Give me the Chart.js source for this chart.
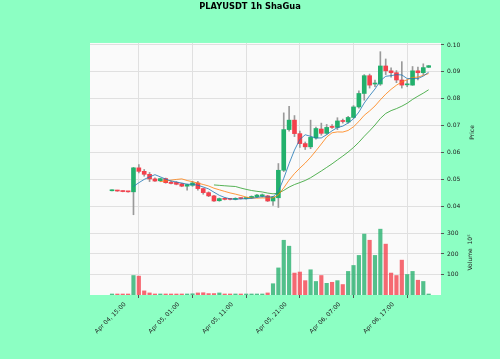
<!DOCTYPE html>
<html>
<head>
<meta charset="utf-8">
<script src="https://cdn.jsdelivr.net/npm/chart.js@4.4.1/dist/chart.umd.min.js"></script>
<style>
html, body { margin: 0; padding: 0; background: #8cffc3; }
canvas { display: block; }
</style>
</head>
<body>
<canvas id="playusdt" width="500" height="359"></canvas>
<script>
// PLAYUSDT 1h - candles, MAs (5/10/20) and volume
var xTickPos = [0, 10, 20, 30, 40, 50, 60];
var xTickLabels = ['Apr 04, 15:00', 'Apr 05, 01:00', 'Apr 05, 11:00', 'Apr 05, 21:00', 'Apr 06, 07:00', 'Apr 06, 17:00', ''];
var priceTicks = [0.04, 0.05, 0.06, 0.07, 0.08, 0.09, 0.10];
var volumeTicks = [100, 200, 300];

var opens = [0.0459,0.0461,0.0458,0.0456,0.0455,0.0544,0.0531,0.0520,0.0503,0.0496,
             0.0504,0.0491,0.0490,0.0485,0.0476,0.0479,0.0488,0.0467,0.0452,0.0440,
             0.0422,0.0431,0.0429,0.0427,0.0431,0.0430,0.0433,0.0437,0.0439,0.0440,
             0.0421,0.0433,0.0535,0.0686,0.0721,0.0671,0.0634,0.0622,0.0655,0.0688,
             0.0672,0.0697,0.0694,0.0719,0.0714,0.0731,0.0770,0.0820,0.0886,0.0855,
             0.0855,0.0922,0.0904,0.0897,0.0870,0.0852,0.0851,0.0904,0.0897,0.0917];
var highs = [0.0462,0.0461,0.0459,0.0457,0.0546,0.0556,0.0538,0.0527,0.0507,0.0506,
             0.0506,0.0495,0.0493,0.0487,0.0484,0.0494,0.0494,0.0469,0.0455,0.0442,
             0.0432,0.0433,0.0430,0.0433,0.0433,0.0433,0.0440,0.0446,0.0447,0.0442,
             0.0438,0.0560,0.0748,0.0772,0.0738,0.0680,0.0640,0.0721,0.0695,0.0710,
             0.0705,0.0705,0.0730,0.0725,0.0735,0.0775,0.0830,0.0890,0.0892,0.0870,
             0.0975,0.0948,0.0915,0.0905,0.0938,0.0870,0.0920,0.0918,0.0930,0.0924];
var lows = [0.0458,0.0457,0.0455,0.0454,0.0370,0.0525,0.0513,0.0493,0.0494,0.0493,
            0.0487,0.0484,0.0481,0.0474,0.0461,0.0475,0.0461,0.0446,0.0437,0.0419,
            0.0420,0.0425,0.0425,0.0425,0.0428,0.0428,0.0430,0.0434,0.0435,0.0419,
            0.0405,0.0397,0.0530,0.0680,0.0660,0.0620,0.0612,0.0615,0.0650,0.0665,
            0.0668,0.0690,0.0686,0.0710,0.0710,0.0728,0.0765,0.0795,0.0840,0.0845,
            0.0850,0.0890,0.0880,0.0860,0.0840,0.0845,0.0850,0.0870,0.0890,0.0916];
var closes = [0.0461,0.0458,0.0456,0.0455,0.0544,0.0531,0.0520,0.0503,0.0495,0.0504,
              0.0489,0.0486,0.0483,0.0476,0.0482,0.0488,0.0467,0.0452,0.0440,0.0421,
              0.0430,0.0427,0.0427,0.0431,0.0430,0.0431,0.0438,0.0443,0.0444,0.0421,
              0.0436,0.0535,0.0686,0.0721,0.0671,0.0634,0.0622,0.0657,0.0690,0.0672,
              0.0694,0.0694,0.0718,0.0716,0.0731,0.0770,0.0820,0.0886,0.0851,0.0856,
              0.0922,0.0904,0.0897,0.0870,0.0851,0.0854,0.0904,0.0897,0.0916,0.0923];
// volume in units of 10^5
var volume = [2,3,3,3,95,92,20,10,5,5,
              5,3,3,5,5,6,10,11,7,7,
              10,5,5,5,3,3,3,4,3,10,
              55,132,267,238,107,112,70,123,66,95,
              57,62,70,51,115,144,193,297,267,193,
              321,248,107,95,170,100,115,72,66,2];

var mav5 = [null,null,null,null,
            0.04748,0.04888,0.05012,0.05106,0.05186,0.05106,0.05022,0.04954,0.04914,0.04876,
            0.04832,0.04830,0.04792,0.04730,0.04658,0.04536,0.04420,0.04340,0.04290,0.04272,
            0.04290,0.04292,0.04308,0.04342,0.04374,0.04356,0.04366,0.04566,0.05050,0.05598,
            0.06098,0.06494,0.06668,0.06610,0.06548,0.06550,0.06670,0.06814,0.06936,0.06988,
            0.07106,0.07258,0.07510,0.07846,0.08116,0.08366,0.08670,0.08838,0.08860,0.08898,
            0.08888,0.08752,0.08752,0.08752,0.08844,0.08988];
var mav10 = [null,null,null,null,null,null,null,null,null,
             0.04927,0.04955,0.04983,0.05010,0.05031,0.04969,0.04926,0.04873,0.04822,0.04767,
             0.04684,0.04625,0.04566,0.04510,0.04465,0.04413,0.04356,0.04324,0.04316,0.04323,
             0.04323,0.04329,0.04437,0.04696,0.04986,0.05227,0.05430,0.05617,0.05830,0.06073,
             0.06324,0.06582,0.06741,0.06773,0.06768,0.06828,0.06964,0.07162,0.07391,0.07552,
             0.07736,0.07964,0.08174,0.08353,0.08507,0.08627,0.08711,0.08795,0.08806,0.08871,
             0.08938];
var mav20 = [null,null,null,null,null,null,null,null,null,null,
             null,null,null,null,null,null,null,null,null,
             0.04806,0.04790,0.04775,0.04760,0.04748,0.04691,0.04641,0.04599,0.04569,0.04545,
             0.04504,0.04477,0.04502,0.04603,0.04726,0.04820,0.04893,0.04971,0.05073,0.05198,
             0.05324,0.05456,0.05589,0.05735,0.05877,0.06028,0.06197,0.06390,0.06611,0.06813,
             0.07030,0.07273,0.07458,0.07563,0.07638,0.07728,0.07838,0.07979,0.08099,0.08212,
             0.08337];

var upColor = '#22b06c';
var downColor = '#f4404c';
var upVolColor = 'rgba(34,176,108,0.78)';
var downVolColor = 'rgba(244,64,76,0.78)';

var bodyColors = [];
var volColors = [];
for (var i = 0; i < closes.length; i++) {
    var up = closes[i] >= opens[i];
    bodyColors.push(up ? upColor : downColor);
    volColors.push(up ? upVolColor : downVolColor);
}

function pts(arr) {
    return arr.map(function (v, i) { return { x: i, y: v }; });
}

// plot background + axis titles (read bottom-to-top like the original)
var painelFundo = {
    id: 'painelFundo',
    beforeDraw: function (chart) {
        var a = chart.chartArea, c = chart.ctx;
        c.save();
        c.fillStyle = '#fafafa';
        c.fillRect(a.left, a.top, a.right - a.left, a.bottom - a.top);
        c.restore();
    },
    afterDraw: function (chart) {
        var c = chart.ctx, sy = chart.scales.y, sv = chart.scales.yv;
        c.save();
        c.fillStyle = '#222';
        c.font = '6px "DejaVu Sans"';
        c.textAlign = 'center';
        c.textBaseline = 'middle';
        c.translate(sy.right - 28, (sy.top + sy.bottom) / 2);
        c.rotate(-Math.PI / 2);
        c.fillText('Price', 0, 0);
        c.restore();
        c.save();
        c.fillStyle = '#222';
        c.font = '6px "DejaVu Sans"';
        c.textAlign = 'center';
        c.textBaseline = 'middle';
        c.translate(sv.right - 30, (sv.top + sv.bottom) / 2 - 6);
        c.rotate(-Math.PI / 2);
        c.fillText('Volume  10\u2075', 0, 0);
        c.restore();
    }
};

Chart.defaults.font.family = 'DejaVu Sans';

var ctx = document.getElementById('playusdt').getContext('2d');
var grafico = new Chart(ctx, {
    type: 'bar',
    data: {
        datasets: [{
            type: 'line',
            label: 'MA5',
            data: pts(mav5),
            borderColor: 'rgba(31,119,180,0.8)',
            borderWidth: 1,
            pointRadius: 0,
            yAxisID: 'y',
            order: 0
        }, {
            type: 'line',
            label: 'MA10',
            data: pts(mav10),
            borderColor: 'rgba(255,127,14,0.8)',
            borderWidth: 1,
            pointRadius: 0,
            yAxisID: 'y',
            order: 0
        }, {
            type: 'line',
            label: 'MA20',
            data: pts(mav20),
            borderColor: 'rgba(44,160,44,0.8)',
            borderWidth: 1,
            pointRadius: 0,
            yAxisID: 'y',
            order: 0
        }, {
            label: 'body',
            data: opens.map(function (o, i) { return { x: i, y: [o, closes[i]] }; }),
            backgroundColor: bodyColors,
            barThickness: 4,
            minBarLength: 1,
            grouped: false,
            yAxisID: 'y',
            order: 1
        }, {
            label: 'wick',
            data: lows.map(function (l, i) { return { x: i, y: [l, highs[i]] }; }),
            backgroundColor: '#9a9a9a',
            barThickness: 1,
            grouped: false,
            yAxisID: 'y',
            order: 2
        }, {
            label: 'Volume',
            data: pts(volume),
            backgroundColor: volColors,
            barThickness: 3.5,
            minBarLength: 1,
            grouped: false,
            yAxisID: 'yv',
            order: 3
        }]
    },
    options: {
        responsive: false,
        animation: false,
        devicePixelRatio: 1,
        layout: { padding: 0 },
        plugins: {
            legend: { display: false },
            tooltip: { enabled: false },
            title: {
                display: true,
                text: 'PLAYUSDT 1h ShaGua',
                color: '#000',
                font: { size: 8.3, weight: 'bold' },
                padding: { top: 2, bottom: 31 }
            }
        },
        scales: {
            x: {
                type: 'linear',
                min: -4.1,
                max: 61.3,
                offset: false,
                border: { display: false },
                grid: { color: '#e0e0e0', tickColor: '#555', tickLength: 3 },
                afterBuildTicks: function (s) {
                    s.ticks = xTickPos.map(function (v) { return { value: v }; });
                },
                afterFit: function (s) { s.height = 64; },
                ticks: {
                    autoSkip: false,
                    minRotation: 45,
                    maxRotation: 45,
                    labelOffset: 13,
                    padding: 3,
                    color: '#222',
                    font: { size: 6 },
                    callback: function (v, i) { return xTickLabels[i]; }
                }
            },
            // empty left margin of the figure
            margem: {
                type: 'linear',
                position: 'left',
                display: true,
                border: { display: false },
                grid: { display: false },
                ticks: { display: false },
                afterFit: function (s) { s.width = 90; }
            },
            y: {
                position: 'right',
                stack: 'painel',
                stackWeight: 179,
                min: 0.03431,
                max: 0.10074,
                border: { display: false },
                grid: { color: '#e0e0e0', tickColor: '#555', tickLength: 3 },
                afterBuildTicks: function (s) {
                    s.ticks = priceTicks.map(function (v) { return { value: v }; });
                },
                afterFit: function (s) { s.width = 59; },
                ticks: {
                    padding: 3,
                    color: '#222',
                    font: { size: 6 },
                    callback: function (v) { return v.toFixed(2); }
                }
            },
            yv: {
                position: 'right',
                stack: 'painel',
                stackWeight: 73,
                min: 0,
                max: 356,
                border: { display: false },
                grid: { color: '#e0e0e0', tickColor: '#555', tickLength: 3 },
                afterBuildTicks: function (s) {
                    s.ticks = volumeTicks.map(function (v) { return { value: v }; });
                },
                afterFit: function (s) { s.width = 59; },
                ticks: {
                    padding: 3,
                    color: '#222',
                    font: { size: 6 },
                    callback: function (v) { return String(v); }
                }
            }
        }
    },
    plugins: [painelFundo]
});
</script>
</body>
</html>
